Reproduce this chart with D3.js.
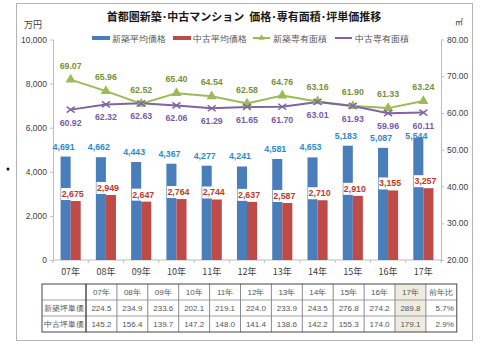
<!DOCTYPE html>
<html>
<head>
<meta charset="utf-8">
<script src="https://cdn.jsdelivr.net/npm/d3@7/dist/d3.min.js"></script>
<style>
  body { margin: 0; background: #fff; }
  text { font-family: "Liberation Sans", Arial, sans-serif; }
  .jp { font-family: "Noto Sans CJK JP", sans-serif; }
</style>
</head>
<body>
<div id="chart"></div>
<script>

// years and the four series
var years = ["07年", "08年", "09年", "10年", "11年", "12年", "13年", "14年", "15年", "16年", "17年"];
var newPrice = [4691, 4662, 4443, 4367, 4277, 4241, 4581, 4653, 5183, 5087, 5544];
var usedPrice = [2675, 2949, 2647, 2764, 2744, 2637, 2587, 2710, 2910, 3155, 3257];
var newArea = [69.07, 65.96, 62.52, 65.40, 64.54, 62.58, 64.76, 63.16, 61.90, 61.33, 63.24];
var usedArea = [60.92, 62.32, 62.63, 62.06, 61.29, 61.65, 61.70, 63.01, 61.93, 59.96, 60.11];

// tsubo unit price table
var newTsubo = ["224.5", "234.9", "233.6", "202.1", "219.1", "224.0", "233.9", "243.5", "276.8", "274.2", "289.8"];
var usedTsubo = ["145.2", "156.4", "139.7", "147.2", "148.0", "141.4", "138.6", "142.2", "155.3", "174.0", "179.1"];
var yoy = ["5.7%", "2.9%"];
var rowNames = ["新築坪単価", "中古坪単価"];

var leftTicks = [0, 2000, 4000, 6000, 8000, 10000];
var rightTicks = [20, 30, 40, 50, 60, 70, 80];

var width = 499, height = 346;
var plotL = 53, plotR = 441, plotT = 39.5, plotB = 260;

var svg = d3.select("#chart")
    .append("svg")
    .attr("width", width)
    .attr("height", height);

svg.append("rect")
    .attr("width", "100%")
    .attr("height", "100%")
    .attr("fill", "white");

// outer frame
svg.append("rect")
    .attr("x", 16.5).attr("y", 3.5)
    .attr("width", 456).attr("height", 337)
    .attr("fill", "none")
    .attr("stroke", "#b5b5b5");

svg.append("circle").attr("cx", 8).attr("cy", 169).attr("r", 1.5).attr("fill", "#111");

var x = d3.scaleBand().domain(years).range([plotL, plotR]).paddingInner(0.43).paddingOuter(0.215);
var x1 = d3.scaleBand().domain(["new", "used"]).range([0, x.bandwidth()]);
var yL = d3.scaleLinear().domain([0, 10000]).range([plotB, plotT]);
var yR = d3.scaleLinear().domain([20, 80]).range([plotB, plotT]);

// axes
var axisL = svg.append("g")
    .attr("transform", "translate(" + plotL + ",0)")
    .call(d3.axisLeft(yL).tickValues(leftTicks).tickFormat(d3.format(",")).tickSize(3).tickSizeOuter(0));
var axisR = svg.append("g")
    .attr("transform", "translate(" + plotR + ",0)")
    .call(d3.axisRight(yR).tickValues(rightTicks).tickFormat(d3.format(".2f")).tickSize(3).tickSizeOuter(0));
[axisL, axisR].forEach(function(a) {
    a.selectAll("path, line").attr("stroke", "#bdbdbd");
    a.selectAll("text").attr("fill", "#404040").style("font-size", "8.5px");
});

svg.append("line")
    .attr("x1", plotL).attr("x2", plotR)
    .attr("y1", plotB).attr("y2", plotB)
    .attr("stroke", "#bdbdbd");

svg.append("g").selectAll("line")
    .data(d3.range(years.length + 1))
    .enter().append("line")
    .attr("x1", function(i) { return plotL + i * x.step(); })
    .attr("x2", function(i) { return plotL + i * x.step(); })
    .attr("y1", plotB).attr("y2", plotB + 3)
    .attr("stroke", "#bdbdbd");

svg.append("g").selectAll("text")
    .data(years)
    .enter().append("text")
    .attr("class", "jp")
    .attr("x", function(d) { return x(d) + x.bandwidth() / 2; })
    .attr("y", 275)
    .attr("text-anchor", "middle")
    .attr("fill", "#404040")
    .style("font-size", "9px")
    .text(function(d) { return d; });

// unit labels
svg.append("text").attr("class", "jp").attr("x", 33).attr("y", 28)
    .attr("text-anchor", "middle").attr("fill", "#404040").style("font-size", "9px").text("万円");
svg.append("text").attr("class", "jp").attr("x", 459).attr("y", 25)
    .attr("text-anchor", "middle").attr("fill", "#404040").style("font-size", "8px").text("㎡");

// title
svg.append("text")
    .attr("class", "jp")
    .attr("x", 244).attr("y", 21)
    .attr("text-anchor", "middle")
    .attr("fill", "#1a1a1a")
    .style("font-size", "11px")
    .style("font-weight", "bold")
    .style("white-space", "pre")
    .text("首都圏新築･中古マンション  価格･専有面積･坪単価推移");

// bars
var bars = svg.append("g");
bars.selectAll("rect.new")
    .data(newPrice)
    .enter().append("rect")
    .attr("x", function(d, i) { return x(years[i]) + x1("new"); })
    .attr("y", function(d) { return yL(d); })
    .attr("width", x1.bandwidth())
    .attr("height", function(d) { return plotB - yL(d); })
    .attr("fill", "#4a7ebb");
bars.selectAll("rect.used")
    .data(usedPrice)
    .enter().append("rect")
    .attr("x", function(d, i) { return x(years[i]) + x1("used"); })
    .attr("y", function(d) { return yL(d); })
    .attr("width", x1.bandwidth())
    .attr("height", function(d) { return plotB - yL(d); })
    .attr("fill", "#be4b48");

// area lines
var areaLine = d3.line()
    .x(function(d, i) { return x(years[i]) + x.bandwidth() / 2; })
    .y(function(d) { return yR(d); });

svg.append("path").datum(newArea).attr("d", areaLine)
    .attr("fill", "none").attr("stroke", "#9bbb59").attr("stroke-width", 2);
svg.append("path").datum(usedArea).attr("d", areaLine)
    .attr("fill", "none").attr("stroke", "#8064a2").attr("stroke-width", 2);

var tri = d3.symbol().type(d3.symbolTriangle).size(45);
svg.append("g").selectAll("path")
    .data(newArea)
    .enter().append("path")
    .attr("d", tri)
    .attr("transform", function(d, i) { return "translate(" + (x(years[i]) + x.bandwidth() / 2) + "," + yR(d) + ")"; })
    .attr("fill", "#9bbb59");

svg.append("g").selectAll("path")
    .data(usedArea)
    .enter().append("path")
    .attr("d", "M-4,-3L4,3M-4,3L4,-3")
    .attr("transform", function(d, i) { return "translate(" + (x(years[i]) + x.bandwidth() / 2) + "," + yR(d) + ")"; })
    .attr("stroke", "#8064a2")
    .attr("stroke-width", 1.5);

// data labels
var labels = svg.append("g").style("font-size", "8.8px").style("font-weight", "bold");

labels.selectAll("text.na")
    .data(newArea)
    .enter().append("text")
    .attr("x", function(d, i) { return x(years[i]) + x.bandwidth() / 2; })
    .attr("y", function(d) { return yR(d) - 11; })
    .attr("text-anchor", "middle")
    .attr("fill", "#76923c")
    .text(function(d) { return d.toFixed(2); });

labels.selectAll("text.ua")
    .data(usedArea)
    .enter().append("text")
    .attr("x", function(d, i) { return x(years[i]) + x.bandwidth() / 2; })
    .attr("y", function(d) { return yR(d) + 16; })
    .attr("text-anchor", "middle")
    .attr("fill", "#7a5ba6")
    .text(function(d) { return d.toFixed(2); });

labels.selectAll("text.np")
    .data(newPrice)
    .enter().append("text")
    .attr("x", function(d, i) { return x(years[i]) + x1("new") + x1.bandwidth() / 2 - 2; })
    .attr("y", function(d, i) { return Math.max(yL(d) - 7, yR(usedArea[i]) + 26); })
    .attr("text-anchor", "middle")
    .attr("fill", "#2e8bc9")
    .text(function(d) { return d3.format(",")(d); });

var usedLabel = labels.selectAll("g.up")
    .data(usedPrice)
    .enter().append("g")
    .attr("transform", function(d, i) {
        return "translate(" + (x(years[i]) + x1("used") + x1.bandwidth() / 2 - 3) + "," + (yL(d) - 7) + ")";
    });
usedLabel.append("rect")
    .attr("x", -11.5).attr("y", -6).attr("width", 23).attr("height", 12)
    .attr("fill", "white");
usedLabel.append("text")
    .attr("y", 3)
    .attr("text-anchor", "middle")
    .attr("fill", "#c0392b")
    .text(function(d) { return d3.format(",")(d); });

// legend
var legend = svg.append("g").attr("class", "jp").style("font-size", "9px");
var legendItems = [
    { name: "新築平均価格", x: 92, type: "bar", color: "#4a7ebb" },
    { name: "中古平均価格", x: 173, type: "bar", color: "#be4b48" },
    { name: "新築専有面積", x: 253, type: "tri", color: "#9bbb59" },
    { name: "中古専有面積", x: 335, type: "x", color: "#8064a2" }
];
legendItems.forEach(function(d) {
    var g = legend.append("g").attr("transform", "translate(" + d.x + ",38)");
    if (d.type === "bar") {
        g.append("rect").attr("x", 0).attr("y", -2).attr("width", 18).attr("height", 4).attr("fill", d.color);
    } else {
        g.append("line").attr("x1", 0).attr("x2", 17).attr("stroke", d.color).attr("stroke-width", 2);
        if (d.type === "tri") {
            g.append("path").attr("d", d3.symbol().type(d3.symbolTriangle).size(18))
                .attr("transform", "translate(8.5,0)").attr("fill", d.color);
        }
    }
    g.append("text").attr("x", 20).attr("y", 3.5).attr("fill", "#505050").text(d.name);
});

// tsubo price table
var tLeft = 42, tTop = 284, rowH = 16, firstW = 44, colW = 30.9;
var cols = years.concat(["前年比"]);
var tRight = tLeft + firstW + cols.length * colW;
var table = svg.append("g").attr("class", "jp").style("font-size", "8px");

table.append("rect")
    .attr("x", tLeft + firstW + 10 * colW).attr("y", tTop)
    .attr("width", colW).attr("height", rowH * 3)
    .attr("fill", "#eeece1");

for (var r = 1; r < 3; r++) {
    table.append("line")
        .attr("x1", tLeft).attr("x2", tRight)
        .attr("y1", tTop + r * rowH).attr("y2", tTop + r * rowH)
        .attr("stroke", "#a0a0a0");
}
for (var c = 1; c < cols.length; c++) {
    table.append("line")
        .attr("x1", tLeft + firstW + c * colW).attr("x2", tLeft + firstW + c * colW)
        .attr("y1", tTop).attr("y2", tTop + rowH * 3)
        .attr("stroke", "#8a8a8a");
}
table.append("line")
    .attr("x1", tLeft + firstW).attr("x2", tLeft + firstW)
    .attr("y1", tTop).attr("y2", tTop + rowH * 3)
    .attr("stroke", "#333").attr("stroke-width", 1.3);
table.append("rect")
    .attr("x", tLeft).attr("y", tTop)
    .attr("width", tRight - tLeft).attr("height", rowH * 3)
    .attr("fill", "none").attr("stroke", "#444");

table.selectAll("text.h")
    .data(cols)
    .enter().append("text")
    .attr("x", function(d, i) { return tLeft + firstW + (i + 0.5) * colW; })
    .attr("y", tTop + rowH / 2 + 3)
    .attr("text-anchor", "middle")
    .attr("fill", "#555")
    .text(function(d) { return d; });

[newTsubo, usedTsubo].forEach(function(row, r) {
    var cy = tTop + (r + 1.5) * rowH + 3;
    table.append("text")
        .attr("x", tLeft + firstW / 2).attr("y", cy)
        .attr("text-anchor", "middle").attr("fill", "#555")
        .text(rowNames[r]);
    table.selectAll("text.r" + r)
        .data(row)
        .enter().append("text")
        .attr("x", function(d, i) { return tLeft + firstW + (i + 0.5) * colW; })
        .attr("y", cy)
        .attr("text-anchor", "middle")
        .attr("fill", "#555")
        .text(function(d) { return d; });
    table.append("text")
        .attr("x", tRight - 3).attr("y", cy)
        .attr("text-anchor", "end").attr("fill", "#555")
        .text(yoy[r]);
});

</script>
</body>
</html>
